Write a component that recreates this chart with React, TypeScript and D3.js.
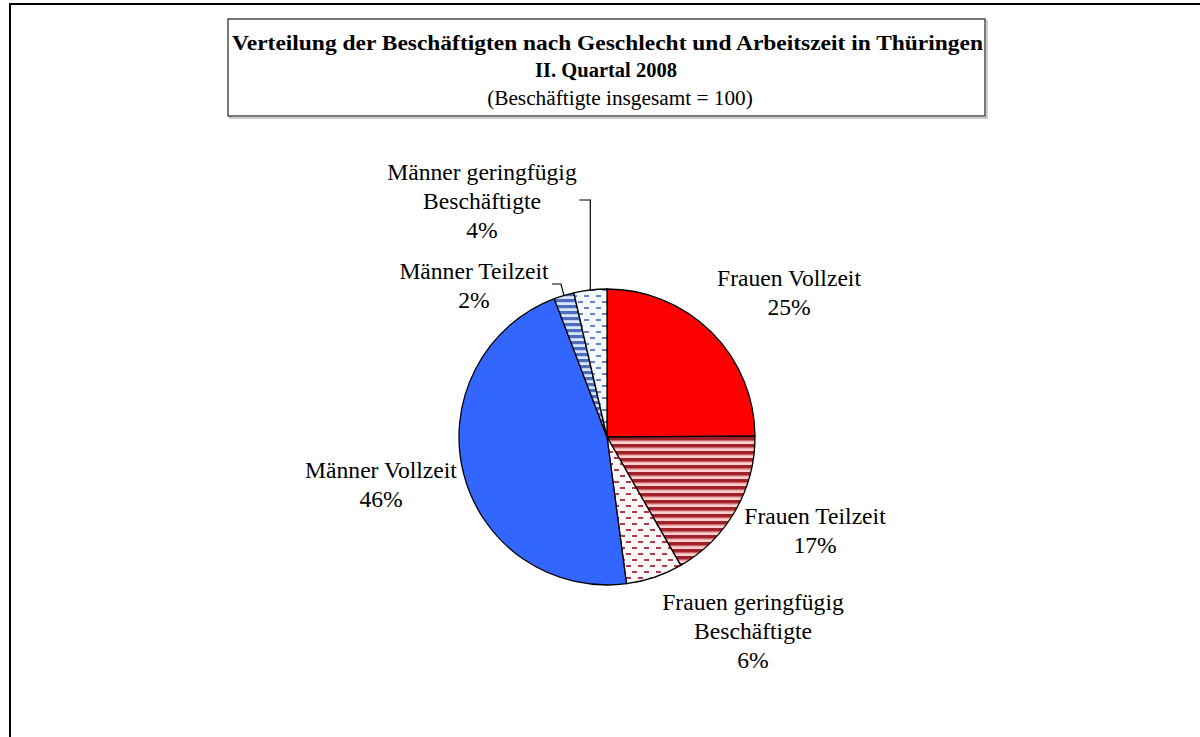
import React from 'react';
import * as d3 from 'd3';

const categories = [
  'Frauen Vollzeit',
  'Frauen Teilzeit',
  'Frauen geringfügig Beschäftigte',
  'Männer Vollzeit',
  'Männer Teilzeit',
  'Männer geringfügig Beschäftigte',
];
const shares = [24.9, 16.8, 6.2, 46.3, 2.2, 3.6];
const labelLines = [
  ['Frauen Vollzeit', '25%'],
  ['Frauen Teilzeit', '17%'],
  ['Frauen geringfügig', 'Beschäftigte', '6%'],
  ['Männer Vollzeit', '46%'],
  ['Männer Teilzeit', '2%'],
  ['Männer geringfügig', 'Beschäftigte', '4%'],
];
const titleLines = [
  'Verteilung der Beschäftigten nach Geschlecht und Arbeitszeit in Thüringen',
  'II. Quartal 2008',
  '(Beschäftigte insgesamt = 100)',
];

// label anchor (center of first line) relative to pie center
const labelPos: [number, number][] = [
  [182, -159],
  [208, 79],
  [146, 165],
  [-226, 33],
  [-133, -166],
  [-125, -265],
];
const fills = ['#FF0000', 'url(#ftz)', 'url(#fgb)', '#3366FF', 'url(#mtz)', 'url(#mgb)'];

const W = 1200;
const H = 737;
const cx = 607;
const cy = 437;
const R = 148;
const FONT = '"Liberation Serif", "Times New Roman", serif';

export default function App() {
  const pie = d3.pie<number>().sort(null).value(d => d).startAngle(0).endAngle(2 * Math.PI);
  const arcs = pie(shares);
  const arc = d3.arc<d3.PieArcDatum<number>>().innerRadius(0).outerRadius(R);
  const edge = (a: d3.PieArcDatum<number>) => {
    const m = (a.startAngle + a.endAngle) / 2;
    return [Math.sin(m) * R, -Math.cos(m) * R];
  };

  // leader lines for the two small Männer slices
  const mgEdge = edge(arcs[5]);
  const mtEdge = edge(arcs[4]);
  const mgPath = `M${mgEdge[0] - 11},${-237}H${mgEdge[0]}V${mgEdge[1]}`;
  const mtPath = `M${-55},${-153}H${-46}L${mtEdge[0]},${mtEdge[1]}`;

  return (
    <svg width={W} height={H} style={{ position: 'absolute', left: 0, top: 0, background: '#fff' }}>
      <defs>
        <pattern id="ftz" width="8" height="7" patternUnits="userSpaceOnUse">
          <rect width="8" height="7" fill="#FAD0D0" />
          <rect y="0" width="8" height="3.6" fill="#A02228" />
          <rect y="3.6" width="8" height="0.8" fill="#D86A6A" />
        </pattern>
        <pattern id="mtz" width="8" height="6" patternUnits="userSpaceOnUse">
          <rect width="8" height="6" fill="#D6E6FF" />
          <rect y="0" width="8" height="3.2" fill="#4E6CBC" />
        </pattern>
        <pattern id="fgb" width="12" height="12" patternUnits="userSpaceOnUse">
          <rect width="12" height="12" fill="#FFF8F8" />
          <rect x="1" y="2" width="5" height="2" fill="#B03A48" />
          <rect x="7" y="8" width="5" height="2" fill="#B03A48" />
        </pattern>
        <pattern id="mgb" width="12" height="12" patternUnits="userSpaceOnUse">
          <rect width="12" height="12" fill="#F4F8FF" />
          <rect x="1" y="2" width="5" height="2" fill="#6A84C0" />
          <rect x="7" y="8" width="5" height="2" fill="#6A84C0" />
        </pattern>
      </defs>

      <rect x={10} y={4} width={W} height={H} fill="none" stroke="#000" strokeWidth={2} />

      <rect x={229} y={20} width={757} height={97} fill="#fff" stroke="#9a9a9a" strokeWidth={1} transform="translate(1,1)" />
      <rect x={228} y={19} width={757} height={97} fill="#fff" stroke="#222" strokeWidth={1.2} />
      <g fontFamily={FONT} textAnchor="middle" fill="#000">
        <text x={607.5} y={50} fontSize={21} fontWeight="bold" textLength={751} lengthAdjust="spacingAndGlyphs">{titleLines[0]}</text>
        <text x={606} y={77} fontSize={20.5} fontWeight="bold">{titleLines[1]}</text>
        <text x={620} y={105} fontSize={21.3}>{titleLines[2]}</text>
      </g>

      <g transform={`translate(${cx},${cy})`}>
        {arcs.map((a, i) => (
          <path key={categories[i]} d={arc(a) || ''} fill={fills[i]} stroke="#000" strokeWidth={1.3} />
        ))}
        <path d={mgPath} fill="none" stroke="#000" strokeWidth={1.2} />
        <path d={mtPath} fill="none" stroke="#000" strokeWidth={1.2} />
        <g fontFamily={FONT} fontSize={23.6} textAnchor="middle" fill="#000">
          {labelLines.map((lines, i) => (
            <text key={categories[i]} x={labelPos[i][0]} y={labelPos[i][1]}>
              {lines.map((l, j) => (
                <tspan key={j} x={labelPos[i][0]} dy={j === 0 ? '0.35em' : 29}>{l}</tspan>
              ))}
            </text>
          ))}
        </g>
      </g>
    </svg>
  );
}
